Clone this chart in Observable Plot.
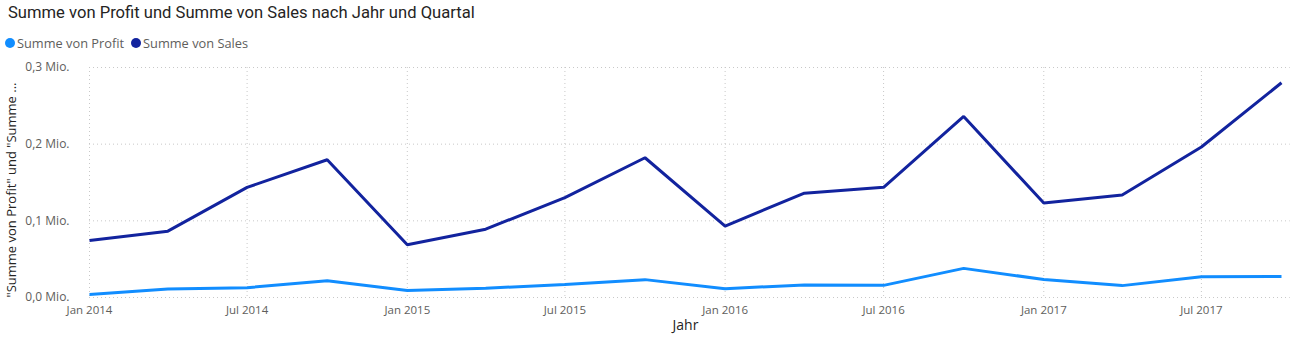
<!DOCTYPE html>
<html>
<head>
<meta charset="utf-8">
<script src="https://cdn.jsdelivr.net/npm/d3@7"></script>
<script src="https://cdn.jsdelivr.net/npm/@observablehq/plot@0.6"></script>
<style>
  body { margin: 0; background: #fff; font-family: "Open Sans", sans-serif; }
  #title { position: absolute; left: 8px; top: 3px; font-family: Roboto, sans-serif; font-size: 16.6px; color: #252423; white-space: nowrap; }
  #legend { position: absolute; left: 5px; top: 34px; font-size: 12.8px; color: #605E5C; display: flex; gap: 7px; white-space: nowrap; }
  #legend span.item { display: flex; align-items: center; }
  #legend span.dot { width: 10px; height: 10px; border-radius: 50%; display: inline-block; margin-right: 2px; }
  #chart { position: absolute; left: 0; top: 55px; }
  #chart svg { overflow: visible; }
</style>
</head>
<body>
<div id="title">Summe von Profit und Summe von Sales nach Jahr und Quartal</div>
<div id="legend"></div>
<div id="chart"></div>
<script>
const quarters = ["2014-01-01","2014-04-01","2014-07-01","2014-10-01",
                  "2015-01-01","2015-04-01","2015-07-01","2015-10-01",
                  "2016-01-01","2016-04-01","2016-07-01","2016-10-01",
                  "2017-01-01","2017-04-01","2017-07-01","2017-10-01"];
const profit = [3811, 11204, 12805, 21724, 9265, 12190, 16854, 23309,
                11441, 16390, 15824, 37998, 23506, 15499, 26985, 27451];
const sales = [74448, 86539, 143633, 179628, 68852, 89124, 130260, 182297,
               93237, 136082, 143787, 236099, 123145, 133764, 196251, 280054];
const seriesNames = ["Summe von Profit", "Summe von Sales"];
const seriesColors = ["#118DFF", "#12239E"];
const xTicks = ["2014-01-01","2014-07-01","2015-01-01","2015-07-01",
                "2016-01-01","2016-07-01","2017-01-01","2017-07-01"];
const yTicks = [0, 100000, 200000, 300000];
const monthNames = ["Jan","Feb","Mär","Apr","Mai","Jun","Jul","Aug","Sep","Okt","Nov","Dez"];

const parse = d3.utcParse("%Y-%m-%d");
const data = [];
quarters.forEach((q, i) => {
  data.push({date: parse(q), value: profit[i], series: seriesNames[0]});
  data.push({date: parse(q), value: sales[i], series: seriesNames[1]});
});

const legend = document.getElementById("legend");
seriesNames.forEach((n, i) => {
  const s = document.createElement("span");
  s.className = "item";
  s.innerHTML = `<span class="dot" style="background:${seriesColors[i]}"></span>${n}`;
  legend.appendChild(s);
});

const gridColor = "#c8c8c8";
const fmtY = d => (d / 1e6).toFixed(1).replace(".", ",") + " Mio.";
const fmtX = d => monthNames[d.getUTCMonth()] + " " + d.getUTCFullYear();

const plot = Plot.plot({
  width: 1296,
  height: 283,
  marginLeft: 89,
  marginRight: 15,
  marginTop: 12,
  marginBottom: 41,
  style: {fontFamily: "'Open Sans', sans-serif", fontSize: "12px", color: "#605E5C", background: "#fff", overflow: "visible"},
  x: {type: "utc", domain: [parse(quarters[0]), parse(quarters[quarters.length - 1])]},
  y: {domain: [0, 300000]},
  color: {domain: seriesNames, range: seriesColors},
  marks: [
    Plot.ruleY(yTicks, {stroke: gridColor, strokeDasharray: "1,3", x1: parse(quarters[0]), x2: d3.utcDay.offset(parse(quarters[quarters.length-1]), 10)}),
    Plot.ruleX(xTicks.map(parse), {stroke: gridColor, strokeDasharray: "1,3"}),
    Plot.axisY({ticks: yTicks, tickFormat: fmtY, tickSize: 0, tickPadding: 20, label: null, fontSize: 12, fill: "#605E5C"}),
    Plot.axisX({ticks: xTicks.map(parse), tickFormat: fmtX, tickSize: 0, tickPadding: 8, label: null, fontSize: 11.5, fill: "#605E5C"}),
    Plot.line(data, {x: "date", y: "value", stroke: "series", strokeWidth: 3, strokeLinejoin: "miter", strokeLinecap: "butt"}),
    Plot.text(["Jahr"], {frameAnchor: "bottom", dy: 32, fontSize: 14, fill: "#252423", text: d => d}),
    Plot.text(['"Summe von Profit" und "Summe ...'], {frameAnchor: "bottom-left", textAnchor: "start", dx: -74, dy: 0, rotate: -90, fontSize: 13, fill: "#252423", text: d => d})
  ]
});
document.getElementById("chart").appendChild(plot);
</script>
</body>
</html>
